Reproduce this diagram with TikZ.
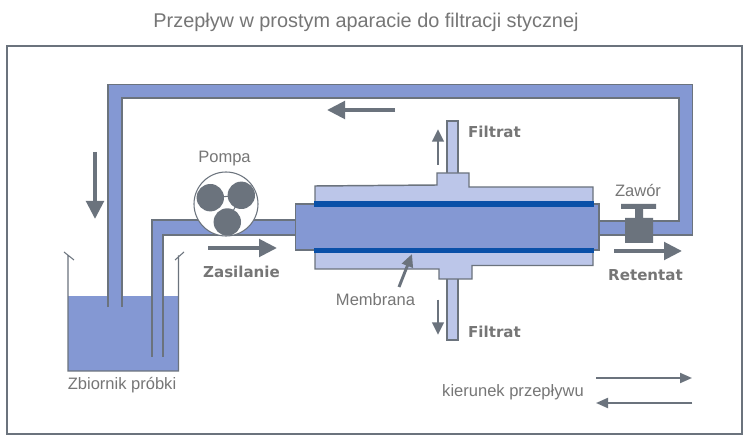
\documentclass[tikz,border=0pt]{standalone}
\usepackage{fontspec}
\setmainfont{Liberation Sans}
\newfontfamily\boldfont{DejaVu Sans}[BoldFont={DejaVu Sans Bold}]
\usetikzlibrary{arrows.meta}
\definecolor{fluid}{HTML}{8498D3}
\definecolor{shell}{HTML}{BCC6E9}
\definecolor{membrane}{HTML}{0A50A8}
\definecolor{steel}{HTML}{6B737D}
\definecolor{label}{HTML}{767676}
\begin{document}
\begin{tikzpicture}[x=0.75pt, y=-0.75pt, line join=miter, font=\fontsize{12.4}{14}\selectfont,
	pipe/.style={draw=steel, line width=1.1pt, fill=fluid},
	case/.style={draw=steel, line width=1.1pt, fill=shell},
	bigarrow/.style={draw=steel, fill=steel, line width=3pt, -{Triangle[length=13.5pt, width=13pt]}},
	midarrow/.style={draw=steel, fill=steel, line width=2.2pt, -{Triangle[length=9.5pt, width=8.5pt]}},
	thinarrow/.style={draw=steel, fill=steel, line width=1.5pt, -{Triangle[length=9pt, width=7.5pt]}},
	txt/.style={text=label, inner sep=0pt},
	boldtxt/.style={text=label, inner sep=0pt, font=\boldfont\bfseries\fontsize{11.3}{13}\selectfont}]
	\useasboundingbox (0,0) rectangle (750,438);
	\fill[white] (0,0) rectangle (750,438);
	\draw[steel, line width=1.5pt] (7,46) rectangle (742,434);
	% tank
	\fill[fluid] (68,296) rectangle (178.5,371);
	\draw[steel, line width=0.8pt] (64,252) -- (74,260) (68,255.5) -- (68,371) -- (178.5,371) -- (178.5,255.5) (184,252) -- (175,260);
	% return pipe
	\fill[fluid] (108,307) -- (108,84.5) -- (692.5,84.5) -- (692.5,235) -- (597,235) -- (597,221) -- (679,221) -- (679,98) -- (122,98) -- (122,307) -- cycle;
	\draw[steel, line width=1.1pt] (108,307) -- (108,84.5) -- (692.5,84.5) -- (692.5,235) -- (597,235) (597,221) -- (679,221) -- (679,98) -- (122,98) -- (122,307);
	% feed pipe
	\fill[fluid] (152,357) -- (152,220) -- (297,220) -- (297,235) -- (163,235) -- (163,357) -- cycle;
	\draw[steel, line width=1.1pt] (152,357) -- (152,220) -- (297,220) (297,235) -- (163,235) -- (163,357);
	% filtrate pipes
	\draw[case] (447,174) -- (447,121) -- (458,121) -- (458,174);
	\draw[case] (447,278) -- (447,340) -- (458,340) -- (458,278);
	% shell
	\draw[case] (315,186) -- (437,185) -- (437,173) -- (469,173) -- (469,187) -- (593,187) -- (593,265.5) -- (472,265.5) -- (472,279) -- (439,279) -- (439,269) -- (315,269) -- cycle;
	% core
	\draw[pipe] (315,204) -- (295.5,204) -- (295.5,250) -- (315,250);
	\draw[pipe] (593,204) -- (599,204) -- (599,250) -- (593,250);
	\fill[fluid] (314,204) rectangle (594,250);
	\fill[membrane] (314,201) rectangle (594,207);
	\fill[membrane] (314,248) rectangle (594,253.5);
	% pump
	\draw[steel, line width=0.8pt, fill=white] (226,204) circle[radius=32];
	\draw[steel, line width=0.8pt] (210.3,197.7) -- (241.3,195.3) -- (227.3,222);
	\fill[steel] (210.3,197.7) circle[radius=13.7] (241.3,195.3) circle[radius=13.7] (227.3,222) circle[radius=13.7];
	% valve
	\fill[steel] (625,218) rectangle (653,243) (635,209) rectangle (643,218) (621,204) rectangle (656,209);
	% flow arrows
	\draw[bigarrow] (395,110) -- (327,110);
	\draw[bigarrow] (95,152) -- (95,219);
	\draw[bigarrow] (208,248) -- (277,248);
	\draw[bigarrow] (614,251) -- (682,251);
	\draw[midarrow] (438,165) -- (438,129);
	\draw[midarrow] (438,300) -- (438,335);
	\draw[midarrow] (399,287) -- (412,254);
	\draw[thinarrow] (596,378) -- (692,378);
	\draw[thinarrow] (692,403) -- (596,403);
	% labels
	\node[txt, font=\fontsize{14.9}{17}\selectfont] (title) at (366,22) {Przepływ w prostym aparacie do filtracji stycznej};
	\node[txt] (pompa) at (224.5,159) {Pompa};
	\node[boldtxt] (zasilanie) at (241.5,272) {Zasilanie};
	\node[txt] (zbiornik) at (122,385) {Zbiornik próbki};
	\node[txt] (membrana) at (375.5,300) {Membrana};
	\node[boldtxt] (filtratg) at (494.5,132) {Filtrat};
	\node[boldtxt] (filtratd) at (494.5,332) {Filtrat};
	\node[txt] (zawor) at (638,190) {Zawór};
	\node[boldtxt] (retentat) at (645.5,275) {Retentat};
	\node[txt] (kierunek) at (513,392) {kierunek przepływu};
\end{tikzpicture}
\end{document}
